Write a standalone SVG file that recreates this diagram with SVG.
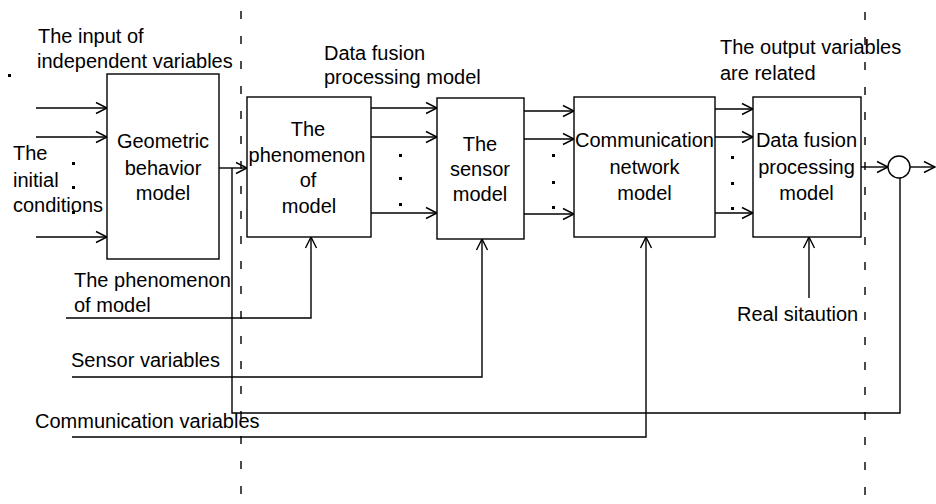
<svg xmlns="http://www.w3.org/2000/svg" width="936" height="504" viewBox="0 0 936 504">
<style>
text{font-family:"Liberation Sans",Arial,sans-serif;font-size:20px;fill:#000}
.c{text-anchor:middle}
.box{fill:#fff;stroke:#000;stroke-width:1.4}
.ln{fill:none;stroke:#000;stroke-width:1.4}
.ar{fill:none;stroke:#000;stroke-width:1.4;marker-end:url(#ah)}
.dash{fill:none;stroke:#000;stroke-width:1.4;stroke-dasharray:8 17}
.dot{fill:#000}
</style>
<defs>
<marker id="ah" markerUnits="userSpaceOnUse" markerWidth="14" markerHeight="14" viewBox="-12 -7 14 14" refX="0" refY="0" orient="auto" overflow="visible">
<path d="M-11,-5.5 L0,0 L-11,5.5" fill="none" stroke="#000" stroke-width="1.4"/>
</marker>
</defs>
<g id="dividers">
<line class="dash" x1="241" y1="11" x2="241" y2="504"/>
<line class="dash" x1="865" y1="12" x2="865" y2="504"/>
</g>
<g id="connectors">
<path class="ar" d="M36,108 H107"/>
<path class="ar" d="M36,137 H107"/>
<path class="ar" d="M36,237 H107"/>
<path class="ar" d="M219,168 H247"/>
<path class="ar" d="M371,108 H437"/>
<path class="ar" d="M371,137 H437"/>
<path class="ar" d="M371,213 H437"/>
<path class="ar" d="M524,111 H574"/>
<path class="ar" d="M524,139 H574"/>
<path class="ar" d="M524,214 H574"/>
<path class="ar" d="M715,109 H753"/>
<path class="ar" d="M715,137 H753"/>
<path class="ar" d="M715,213 H753"/>
<path class="ar" d="M861,167 H888"/>
<path class="ar" d="M910,167 H935"/>
<path class="ln" d="M900,178 V413 H232 V168"/>
<path class="ar" d="M66,318 H311 V237"/>
<path class="ar" d="M72,377 H482 V239"/>
<path class="ar" d="M72,437 H646 V237"/>
<path class="ar" d="M809,298 V237"/>
</g>
<g id="dots">
<rect class="dot" x="8" y="74" width="3" height="3"/>
<rect class="dot" x="72" y="162" width="3" height="3"/>
<rect class="dot" x="72" y="186" width="3" height="3"/>
<rect class="dot" x="72" y="211" width="3" height="3"/>
<rect class="dot" x="399" y="154" width="3" height="3"/>
<rect class="dot" x="399" y="177" width="3" height="3"/>
<rect class="dot" x="399" y="203" width="3" height="3"/>
<rect class="dot" x="552" y="154" width="3" height="3"/>
<rect class="dot" x="552" y="181" width="3" height="3"/>
<rect class="dot" x="552" y="206" width="3" height="3"/>
<rect class="dot" x="731" y="156" width="3" height="3"/>
<rect class="dot" x="731" y="182" width="3" height="3"/>
<rect class="dot" x="731" y="207" width="3" height="3"/>
</g>
<g id="geometric">
<rect class="box" x="107" y="74" width="112" height="185"/>
<text class="c" x="163" y="148">Geometric</text>
<text class="c" x="163" y="175">behavior</text>
<text class="c" x="163" y="200">model</text>
</g>
<g id="phenomenon">
<rect class="box" x="247" y="97" width="124" height="140"/>
<text class="c" x="308" y="136">The</text>
<text class="c" x="307" y="162">phenomenon</text>
<text class="c" x="308" y="187">of</text>
<text class="c" x="309" y="213">model</text>
</g>
<g id="sensor">
<rect class="box" x="437" y="98" width="87" height="141"/>
<text class="c" x="480" y="151">The</text>
<text class="c" x="480" y="176">sensor</text>
<text class="c" x="480" y="201">model</text>
</g>
<g id="communication">
<rect class="box" x="574" y="97" width="141" height="140"/>
<text class="c" x="644.5" y="147">Communication</text>
<text class="c" x="644.5" y="174">network</text>
<text class="c" x="644.5" y="200">model</text>
</g>
<g id="fusion">
<rect class="box" x="753" y="97" width="108" height="140"/>
<text class="c" x="806.5" y="147">Data fusion</text>
<text class="c" x="806.5" y="174">processing</text>
<text class="c" x="806.5" y="200">model</text>
</g>
<g id="sum">
<circle cx="899" cy="167" r="11" fill="#fff" stroke="#000" stroke-width="1.4"/>
</g>
<g id="labels">
<text x="38" y="43">The input of</text>
<text x="37" y="68">independent variables</text>
<text x="13" y="160">The</text>
<text x="13" y="187">initial</text>
<text x="13" y="212">conditions</text>
<text x="324" y="60">Data fusion</text>
<text x="324" y="84">processing model</text>
<text x="720" y="54">The output variables</text>
<text x="720" y="80">are related</text>
<text x="74" y="287">The phenomenon</text>
<text x="74" y="312">of model</text>
<text x="71" y="367">Sensor variables</text>
<text x="35" y="428">Communication variables</text>
<text x="737" y="321">Real sitaution</text>
</g>
</svg>
